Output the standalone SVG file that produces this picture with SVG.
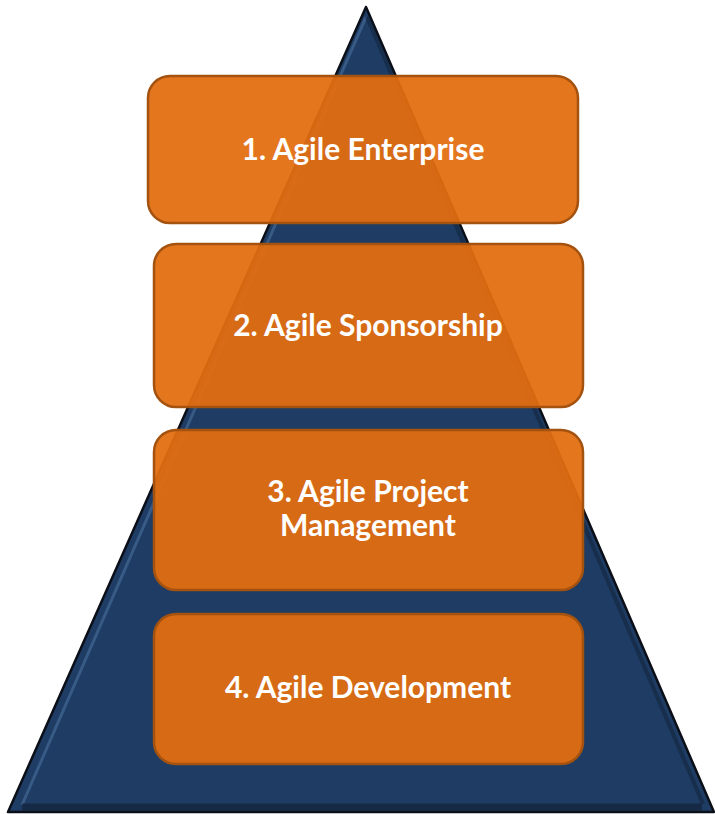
<svg xmlns="http://www.w3.org/2000/svg" width="715" height="814" viewBox="0 0 715 814">
<defs>
<style>
.box{fill:#e26d10;fill-opacity:0.94;stroke:#a4520f;stroke-width:2.5}
.lbl{font-family:"Lato","Liberation Sans",sans-serif;font-weight:bold;font-size:30px;fill:#ffffff;text-anchor:middle}
</style>
</defs>
<g id="pyramid">
<polygon points="366,7 8,812 714,812" fill="#1e3c64" stroke="#0b0f18" stroke-width="2.5" stroke-linejoin="round"/>
<line x1="366" y1="17" x2="22" y2="805" stroke="#4a6f9c" stroke-width="3" stroke-opacity="0.6"/>
<line x1="22" y1="807" x2="702" y2="807" stroke="#15253d" stroke-width="7" stroke-opacity="0.8"/>
<line x1="367" y1="17" x2="703" y2="804" stroke="#13243c" stroke-width="4" stroke-opacity="0.6"/>
</g>
<g id="node1">
<rect class="box" x="148" y="76" width="430" height="147" rx="22"/>
<text class="lbl" x="363" y="160">1. Agile Enterprise</text>
</g>
<g id="node2">
<rect class="box" x="154" y="244" width="429" height="163" rx="22"/>
<text class="lbl" x="368" y="336">2. Agile Sponsorship</text>
</g>
<g id="node3">
<rect class="box" x="154" y="430" width="429" height="160" rx="22"/>
<text class="lbl" x="368" y="502">3. Agile Project</text>
<text class="lbl" x="368" y="536">Management</text>
</g>
<g id="node4">
<rect class="box" x="154" y="614" width="429" height="150" rx="22"/>
<text class="lbl" x="368" y="698">4. Agile Development</text>
</g>
<g id="connectors"></g>
</svg>
